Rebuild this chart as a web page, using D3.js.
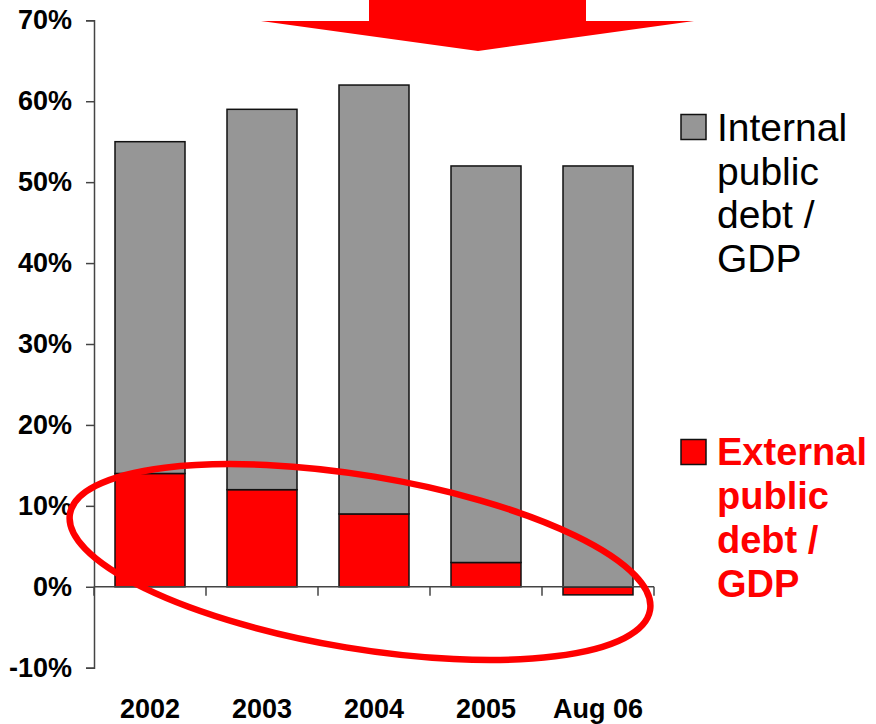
<!DOCTYPE html>
<html>
<head>
<meta charset="utf-8">
<script src="https://cdn.jsdelivr.net/npm/d3@7"></script>
<style>
html,body{margin:0;padding:0;background:#fff;}
svg{display:block;}
</style>
</head>
<body>
<svg id="chart" width="876" height="724"></svg>
<script>
// ---- data ----
const categories = ["2002", "2003", "2004", "2005", "Aug 06"];
const externalDebt = [14, 12, 9, 3, -1];
const internalDebt = [41, 47, 53, 49, 52];
const yTicks = [-10, 0, 10, 20, 30, 40, 50, 60, 70];
const seriesNames = ["External public debt / GDP", "Internal public debt / GDP"];
const legendInternal = ["Internal", "public", "debt /", "GDP"];
const legendExternal = ["External", "public", "debt /", "GDP"];

const rows = categories.map((c, i) => ({cat: c, external: externalDebt[i], internal: internalDebt[i]}));

const svg = d3.select("#chart");
const x0 = 94, x1 = 654;
const x = d3.scaleBand().domain(categories).range([x0, x1]).paddingInner(0.375).paddingOuter(0.1875);
const y = d3.scaleLinear().domain([-10, 70]).range([667.7, 20.3]);

const stack = d3.stack().keys(["external", "internal"]).offset(d3.stackOffsetDiverging);
const series = stack(rows);
const colors = {external: "#ff0000", internal: "#969696"};

// bars
svg.append("g").selectAll("g").data(series).join("g")
  .attr("fill", d => colors[d.key])
  .selectAll("rect").data(d => d).join("rect")
  .attr("x", d => x(d.data.cat))
  .attr("width", x.bandwidth())
  .attr("y", d => y(Math.max(d[0], d[1])))
  .attr("height", d => Math.abs(y(d[0]) - y(d[1])))
  .attr("stroke", "#111").attr("stroke-width", 1.5);

// y axis
const yAxis = d3.axisLeft(y).tickValues(yTicks).tickFormat(d => d + "%").tickSize(8).tickPadding(14);
const gy = svg.append("g").attr("transform", `translate(${x0},0)`).call(yAxis);
gy.select(".domain").attr("stroke", "#444").attr("stroke-width", 1.5);
gy.selectAll(".tick line").attr("stroke", "#444").attr("stroke-width", 1.5);
gy.selectAll(".tick text").attr("font-family", "Liberation Sans, Arial, sans-serif")
  .attr("font-weight", "bold").attr("font-size", 27).attr("fill", "#000");

// x axis (zero line with boundary ticks)
const boundaries = d3.range(categories.length + 1).map(i => x0 + i * x.step());
const gx = svg.append("g");
gx.append("line").attr("x1", x0).attr("x2", x1).attr("y1", y(0)).attr("y2", y(0))
  .attr("stroke", "#444").attr("stroke-width", 1.5);
gx.selectAll("line.t").data(boundaries).join("line").attr("class", "t")
  .attr("x1", d => d).attr("x2", d => d).attr("y1", y(0)).attr("y2", y(0) + 9)
  .attr("stroke", "#444").attr("stroke-width", 1.5);
svg.append("g").selectAll("text").data(categories).join("text")
  .attr("x", d => x(d) + x.bandwidth() / 2)
  .attr("y", 718)
  .attr("text-anchor", "middle")
  .attr("font-family", "Liberation Sans, Arial, sans-serif")
  .attr("font-weight", "bold").attr("font-size", 27).attr("fill", "#000")
  .text(d => d);

// ellipse highlight
svg.append("ellipse")
  .attr("cx", 360).attr("cy", 562).attr("rx", 294).attr("ry", 86.5)
  .attr("transform", "rotate(9.4 360 562)")
  .attr("fill", "none").attr("stroke", "#ff0000").attr("stroke-width", 6.5);

// arrow
svg.append("path")
  .attr("d", "M369,0 L586,0 L586,21 L694,21 L478,51 L261,21 L369,21 Z")
  .attr("fill", "#ff0000");

// legend
const lg = svg.append("g");
lg.append("rect").attr("x", 681).attr("y", 114.5).attr("width", 25).attr("height", 25)
  .attr("fill", colors.internal).attr("stroke", "#111").attr("stroke-width", 1.5);
lg.append("text").attr("font-family", "Liberation Sans, Arial, sans-serif").attr("font-size", 39).attr("fill", "#000")
  .selectAll("tspan").data(legendInternal).join("tspan")
  .attr("x", 717).attr("y", (d, i) => 141 + i * 43.6).text(d => d);
lg.append("rect").attr("x", 681).attr("y", 439.5).attr("width", 25).attr("height", 25)
  .attr("fill", colors.external).attr("stroke", "#111").attr("stroke-width", 1.5);
lg.append("text").attr("font-family", "Liberation Sans, Arial, sans-serif").attr("font-weight", "bold")
  .attr("font-size", 38).attr("fill", "#ff0000")
  .selectAll("tspan").data(legendExternal).join("tspan")
  .attr("x", 717).attr("y", (d, i) => 465 + i * 43.9).text(d => d);
</script>
</body>
</html>
